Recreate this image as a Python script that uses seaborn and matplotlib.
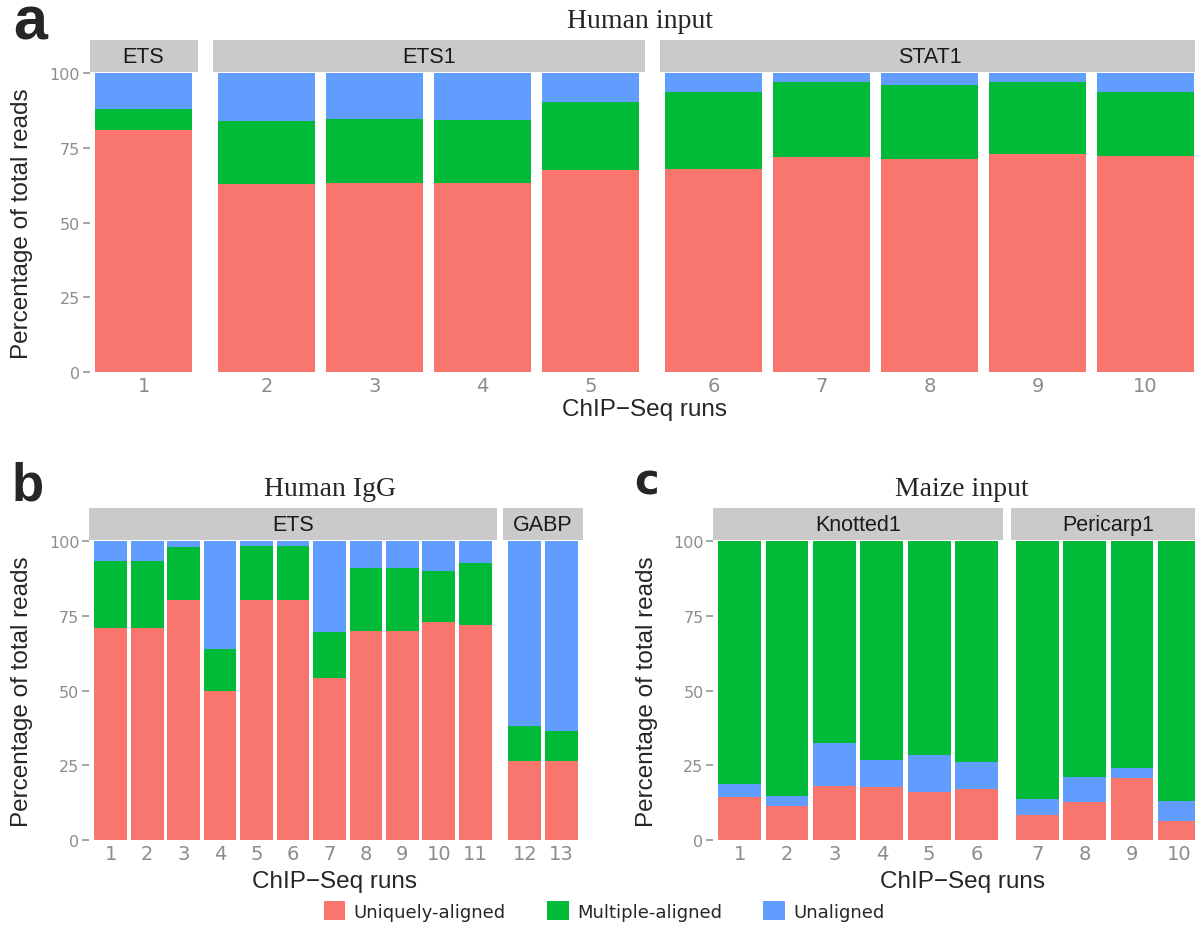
import matplotlib
matplotlib.use("Agg")
import matplotlib.pyplot as plt
import seaborn as sns
import numpy as np
import pandas as pd
from matplotlib.patches import Patch

sns.set_theme(style="white")
plt.rcParams["font.family"] = ["Liberation Sans", "DejaVu Sans"]

# ---------------- data ----------------
# Human input (panel a)
a_runs = ["1", "2", "3", "4", "5", "6", "7", "8", "9", "10"]
a_factor = ["ETS", "ETS1", "ETS1", "ETS1", "ETS1",
            "STAT1", "STAT1", "STAT1", "STAT1", "STAT1"]
a_unique = [81.0, 62.8, 63.1, 63.2, 67.4, 67.8, 71.9, 71.1, 73.0, 72.4]
a_multiple = [6.9, 21.1, 21.4, 21.2, 22.8, 25.8, 25.0, 24.9, 24.1, 21.1]
a_unaligned = [12.1, 16.1, 15.5, 15.6, 9.8, 6.4, 3.1, 4.0, 2.9, 6.5]

# Human IgG (panel b)
b_runs = ["1", "2", "3", "4", "5", "6", "7", "8", "9", "10", "11", "12", "13"]
b_factor = ["ETS"] * 11 + ["GABP"] * 2
b_unique = [70.9, 70.9, 80.2, 49.8, 80.2, 80.2, 54.2, 69.9, 69.9, 73.0, 71.8, 26.5, 26.5]
b_multiple = [22.5, 22.5, 17.8, 14.0, 18.2, 18.2, 15.4, 21.2, 21.2, 16.9, 20.9, 11.6, 9.9]
b_unaligned = [6.6, 6.6, 2.0, 36.2, 1.6, 1.6, 30.4, 8.9, 8.9, 10.1, 7.3, 61.9, 63.6]

# Maize input (panel c)
c_runs = ["1", "2", "3", "4", "5", "6", "7", "8", "9", "10"]
c_factor = ["Knotted1"] * 6 + ["Pericarp1"] * 4
c_unique = [14.5, 11.5, 18.2, 17.7, 16.2, 17.1, 8.2, 12.8, 20.7, 6.3]
c_unaligned = [4.3, 3.1, 14.2, 9.2, 12.1, 8.9, 5.5, 8.2, 3.4, 6.7]
c_multiple = [81.2, 85.4, 67.6, 73.1, 71.7, 74.0, 86.3, 79.0, 75.9, 87.0]

categories = ["Uniquely-aligned", "Multiple-aligned", "Unaligned"]
palette = {"Uniquely-aligned": "#F8766D",
           "Multiple-aligned": "#00BA38",
           "Unaligned": "#619CFF"}

# ---------------- figure helpers ----------------
W, H = 1195, 929
fig = plt.figure(figsize=(W / 100, H / 100), dpi=100)

STRIP_COLOR = "#CACACA"
TICK_COLOR = "#8C8C8C"


def px_axes(x0, x1, ytop, ybot):
    return fig.add_axes([x0 / W, 1 - ybot / H, (x1 - x0) / W, (ybot - ytop) / H])


def fig_text(x, y, s, **kw):
    fig.text(x / W, 1 - y / H, s, **kw)


def draw_panel(runs, factor, layers, left, unit, gap, expand,
               y_top, y_bot, strip_top, strip_bot):
    """Faceted stacked bars; layers = [(column, values), ...] from bottom to top."""
    df = pd.DataFrame({"run": runs, "factor": factor})
    for name, vals in layers:
        df[name] = vals
    x = left
    first = True
    for fname in list(dict.fromkeys(factor)):
        sub = df[df["factor"] == fname].copy()
        n = len(sub)
        width_px = (n + 2 * expand) * unit
        ax = px_axes(x, x + width_px, y_top, y_bot)
        cum = np.zeros(n)
        stacks = []
        for name, _ in layers:
            cum = cum + sub[name].to_numpy()
            stacks.append((name, cum.copy()))
        for name, heights in reversed(stacks):
            sub["_h"] = heights
            sns.barplot(data=sub, x="run", y="_h", order=list(sub["run"]),
                        color=palette[name], saturation=1, width=0.9,
                        linewidth=0, errorbar=None, ax=ax)
        ax.set_xlim(-0.5 - expand, n - 0.5 + expand)
        ax.set_ylim(0, 100)
        ax.set_xlabel("")
        ax.set_ylabel("")
        sns.despine(ax=ax, left=True, bottom=True)
        ax.set_yticks([0, 25, 50, 75, 100])
        ax.tick_params(axis="x", length=0, pad=3, labelsize=14,
                       labelcolor=TICK_COLOR)
        for lab in ax.get_xticklabels():
            lab.set_fontfamily("DejaVu Sans")
        if first:
            ax.set_yticklabels(["0", "25", "50", "75", "100"])
            ax.tick_params(axis="y", left=True, length=5, width=1.1,
                           color=TICK_COLOR, pad=2, labelsize=11.5,
                           labelcolor=TICK_COLOR)
            for lab in ax.get_yticklabels():
                lab.set_fontfamily("DejaVu Sans")
        else:
            ax.tick_params(axis="y", left=False, labelleft=False)
        first = False

        sax = px_axes(x, x + width_px, strip_top, strip_bot)
        sax.set_facecolor(STRIP_COLOR)
        sax.set_xticks([])
        sax.set_yticks([])
        for sp in sax.spines.values():
            sp.set_visible(False)
        sax.text(0.5, 0.48, fname, ha="center", va="center", fontsize=15.5,
                 color="#1A1A1A", transform=sax.transAxes)
        x += width_px + gap


# ---------------- panel a: Human input ----------------
draw_panel(a_runs, a_factor,
           [("Uniquely-aligned", a_unique), ("Multiple-aligned", a_multiple),
            ("Unaligned", a_unaligned)],
           left=89.6, unit=108, gap=15, expand=0.0,
           y_top=74, y_bot=373, strip_top=40.5, strip_bot=72.5)
fig_text(640, 22, "Human input", ha="center", va="center", fontsize=20,
         family="Liberation Serif")
fig_text(30, 39, "a", ha="center", va="baseline", fontsize=44, weight="bold")
fig_text(22, 223.5, "Percentage of total reads", rotation=90, ha="center",
         va="center", fontsize=17.5)
fig_text(645, 410, "ChIP\u2212Seq runs", ha="center", va="center", fontsize=17.5)

# ---------------- panel b: Human IgG ----------------
draw_panel(b_runs, b_factor,
           [("Uniquely-aligned", b_unique), ("Multiple-aligned", b_multiple),
            ("Unaligned", b_unaligned)],
           left=89.2, unit=36.46, gap=6.5, expand=0.09,
           y_top=542, y_bot=841, strip_top=509, strip_bot=540.5)
fig_text(330, 490, "Human IgG", ha="center", va="center", fontsize=20,
         family="Liberation Serif")
fig_text(28, 501, "b", ha="center", va="baseline", fontsize=38, weight="bold")
fig_text(22, 691.5, "Percentage of total reads", rotation=90, ha="center",
         va="center", fontsize=17.5)
fig_text(334, 882, "ChIP\u2212Seq runs", ha="center", va="center", fontsize=17.5)

# ---------------- panel c: Maize input ----------------
draw_panel(c_runs, c_factor,
           [("Uniquely-aligned", c_unique), ("Unaligned", c_unaligned),
            ("Multiple-aligned", c_multiple)],
           left=713.3, unit=47.4, gap=8, expand=0.055,
           y_top=542, y_bot=841, strip_top=509, strip_bot=540.5)
fig_text(962, 490, "Maize input", ha="center", va="center", fontsize=20,
         family="Liberation Serif")
fig_text(647, 495, "c", ha="center", va="baseline", fontsize=30, weight="bold",
         family="DejaVu Sans")
fig_text(647, 691.5, "Percentage of total reads", rotation=90, ha="center",
         va="center", fontsize=17.5)
fig_text(962, 882, "ChIP\u2212Seq runs", ha="center", va="center", fontsize=17.5)

# ---------------- shared legend ----------------
handles = [Patch(facecolor=palette[c], edgecolor="none") for c in categories]
leg = fig.legend(handles, categories, loc="center",
                 bbox_to_anchor=(604 / W, 1 - 912 / H), ncol=3, frameon=False,
                 prop={"family": "DejaVu Sans", "size": 13},
                 handlelength=1.2, handleheight=1.2, handletextpad=0.45,
                 columnspacing=2.3)

fig.savefig("out.png", dpi=100, facecolor="white")
